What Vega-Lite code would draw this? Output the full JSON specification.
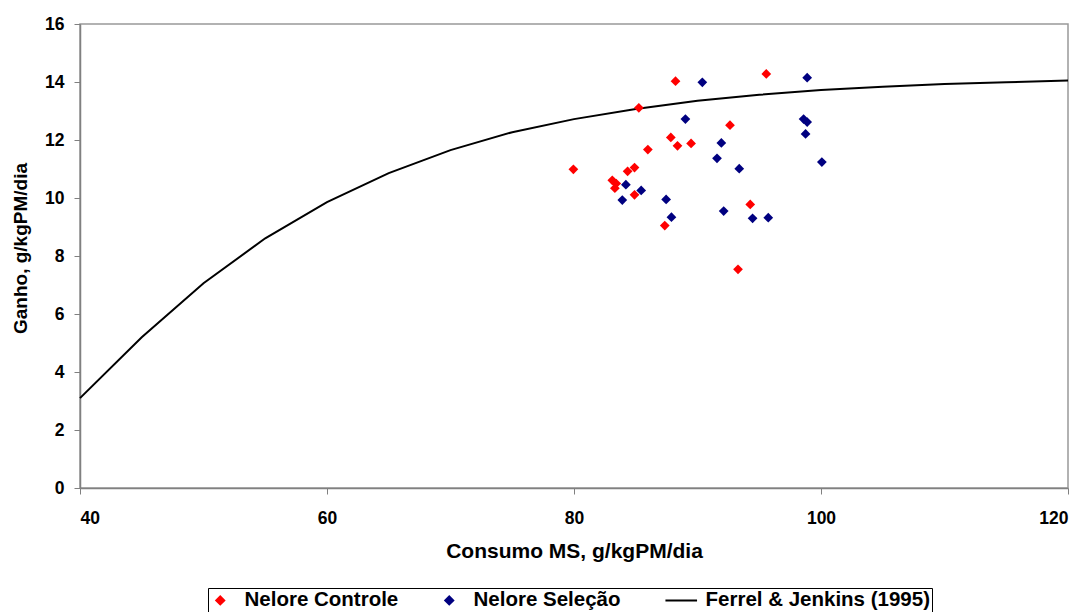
{
  "$schema": "https://vega.github.io/schema/vega-lite/v6.json",
  "width": 988,
  "height": 464,
  "autosize": {"type": "none"},
  "padding": {"left": 80, "top": 24, "right": 20, "bottom": 124},
  "background": "white",
  "config": {
    "view": {"stroke": "#999999", "strokeWidth": 1.5},
    "font": "Liberation Sans",
    "axis": {
      "grid": false,
      "domainColor": "#808080",
      "domainWidth": 1.5,
      "tickColor": "#808080",
      "tickSize": 6,
      "labelFont": "Liberation Sans",
      "labelFontSize": 17.5,
      "labelFontWeight": "bold",
      "labelColor": "black",
      "titleFont": "Liberation Sans",
      "titleFontWeight": "bold",
      "titleColor": "black"
    },
    "legend": {
      "labelFont": "Liberation Sans",
      "labelFontSize": 20.5,
      "labelFontWeight": "bold",
      "labelColor": "black",
      "labelLimit": 500
    }
  },
  "data": {
    "values": [
      {"serie": "Nelore Controle", "consumo": 88.22, "ganho": 14.03},
      {"serie": "Nelore Controle", "consumo": 95.57, "ganho": 14.28},
      {"serie": "Nelore Controle", "consumo": 85.25, "ganho": 13.11},
      {"serie": "Nelore Controle", "consumo": 92.63, "ganho": 12.51},
      {"serie": "Nelore Controle", "consumo": 87.84, "ganho": 12.09},
      {"serie": "Nelore Controle", "consumo": 88.38, "ganho": 11.80},
      {"serie": "Nelore Controle", "consumo": 89.48, "ganho": 11.88},
      {"serie": "Nelore Controle", "consumo": 85.98, "ganho": 11.67},
      {"serie": "Nelore Controle", "consumo": 79.95, "ganho": 10.99},
      {"serie": "Nelore Controle", "consumo": 84.34, "ganho": 10.92},
      {"serie": "Nelore Controle", "consumo": 84.90, "ganho": 11.05},
      {"serie": "Nelore Controle", "consumo": 83.10, "ganho": 10.61},
      {"serie": "Nelore Controle", "consumo": 83.42, "ganho": 10.50},
      {"serie": "Nelore Controle", "consumo": 83.31, "ganho": 10.34},
      {"serie": "Nelore Controle", "consumo": 84.90, "ganho": 10.11},
      {"serie": "Nelore Controle", "consumo": 94.27, "ganho": 9.78},
      {"serie": "Nelore Controle", "consumo": 87.35, "ganho": 9.05},
      {"serie": "Nelore Controle", "consumo": 93.28, "ganho": 7.54},
      {"serie": "Nelore Seleção", "consumo": 90.39, "ganho": 13.99},
      {"serie": "Nelore Seleção", "consumo": 98.88, "ganho": 14.15},
      {"serie": "Nelore Seleção", "consumo": 89.02, "ganho": 12.72},
      {"serie": "Nelore Seleção", "consumo": 98.59, "ganho": 12.72},
      {"serie": "Nelore Seleção", "consumo": 98.88, "ganho": 12.62},
      {"serie": "Nelore Seleção", "consumo": 98.75, "ganho": 12.21},
      {"serie": "Nelore Seleção", "consumo": 91.93, "ganho": 11.90},
      {"serie": "Nelore Seleção", "consumo": 91.58, "ganho": 11.37},
      {"serie": "Nelore Seleção", "consumo": 93.38, "ganho": 11.01},
      {"serie": "Nelore Seleção", "consumo": 100.07, "ganho": 11.24},
      {"serie": "Nelore Seleção", "consumo": 84.20, "ganho": 10.46},
      {"serie": "Nelore Seleção", "consumo": 85.44, "ganho": 10.26},
      {"serie": "Nelore Seleção", "consumo": 83.91, "ganho": 9.93},
      {"serie": "Nelore Seleção", "consumo": 87.46, "ganho": 9.95},
      {"serie": "Nelore Seleção", "consumo": 92.12, "ganho": 9.55},
      {"serie": "Nelore Seleção", "consumo": 87.89, "ganho": 9.34},
      {"serie": "Nelore Seleção", "consumo": 94.46, "ganho": 9.30},
      {"serie": "Nelore Seleção", "consumo": 95.73, "ganho": 9.32},
      {"serie": "Ferrel & Jenkins (1995)", "consumo": 40, "ganho": 3.10},
      {"serie": "Ferrel & Jenkins (1995)", "consumo": 45, "ganho": 5.20},
      {"serie": "Ferrel & Jenkins (1995)", "consumo": 50, "ganho": 7.06},
      {"serie": "Ferrel & Jenkins (1995)", "consumo": 55, "ganho": 8.61},
      {"serie": "Ferrel & Jenkins (1995)", "consumo": 60, "ganho": 9.86},
      {"serie": "Ferrel & Jenkins (1995)", "consumo": 65, "ganho": 10.86},
      {"serie": "Ferrel & Jenkins (1995)", "consumo": 70, "ganho": 11.65},
      {"serie": "Ferrel & Jenkins (1995)", "consumo": 75, "ganho": 12.27},
      {"serie": "Ferrel & Jenkins (1995)", "consumo": 80, "ganho": 12.72},
      {"serie": "Ferrel & Jenkins (1995)", "consumo": 85, "ganho": 13.07},
      {"serie": "Ferrel & Jenkins (1995)", "consumo": 90, "ganho": 13.35},
      {"serie": "Ferrel & Jenkins (1995)", "consumo": 95, "ganho": 13.56},
      {"serie": "Ferrel & Jenkins (1995)", "consumo": 100, "ganho": 13.72},
      {"serie": "Ferrel & Jenkins (1995)", "consumo": 105, "ganho": 13.84},
      {"serie": "Ferrel & Jenkins (1995)", "consumo": 110, "ganho": 13.93},
      {"serie": "Ferrel & Jenkins (1995)", "consumo": 115, "ganho": 13.99},
      {"serie": "Ferrel & Jenkins (1995)", "consumo": 120, "ganho": 14.05}
    ]
  },
  "encoding": {
    "x": {
      "field": "consumo", "type": "quantitative",
      "scale": {"domain": [40, 120], "nice": false, "zero": false},
      "axis": {"values": [40, 60, 80, 100, 120], "title": "Consumo MS, g/kgPM/dia", "titleFontSize": 21, "labelPadding": 15, "titlePadding": 14}
    },
    "y": {
      "field": "ganho", "type": "quantitative",
      "scale": {"domain": [0, 16], "nice": false},
      "axis": {"values": [0, 2, 4, 6, 8, 10, 12, 14, 16], "title": "Ganho, g/kgPM/dia", "titleFontSize": 19, "titleY": 224, "labelPadding": 10, "titlePadding": 14}
    },
    "color": {"field": "serie", "type": "nominal",
      "scale": {"domain": ["Nelore Controle", "Nelore Seleção", "Ferrel & Jenkins (1995)"], "range": ["#FF0000", "#000080", "#000000"]},
      "legend": {
        "title": null,
        "orient": "none",
        "legendX": 128,
        "legendY": 564,
        "direction": "horizontal",
        "strokeColor": "black",
        "padding": 2,
        "columnPadding": 40,
        "symbolSize": 400,
        "symbolStrokeWidth": 2,
        "labelOffset": 14,
        "encode": {
          "symbols": {"update": {
            "stroke": {"scale": "color", "field": "value"},
            "size": {"signal": "datum.value === 'Ferrel & Jenkins (1995)' ? 1000 : 64"}
          }}
        }
      }
    }
  },
  "layer": [
    {
      "transform": [{"filter": "datum.serie === 'Ferrel & Jenkins (1995)'"}],
      "mark": {"type": "line", "strokeWidth": 2, "clip": false},
      "encoding": {}
    },
    {
      "transform": [{"filter": "datum.serie !== 'Ferrel & Jenkins (1995)'"}],
      "mark": {"type": "point", "filled": true, "opacity": 1, "size": 95},
      "encoding": {
        "shape": {"field": "serie", "type": "nominal",
          "scale": {"domain": ["Nelore Controle", "Nelore Seleção", "Ferrel & Jenkins (1995)"], "range": ["diamond", "diamond", "stroke"]}}
      }
    }
  ]
}
